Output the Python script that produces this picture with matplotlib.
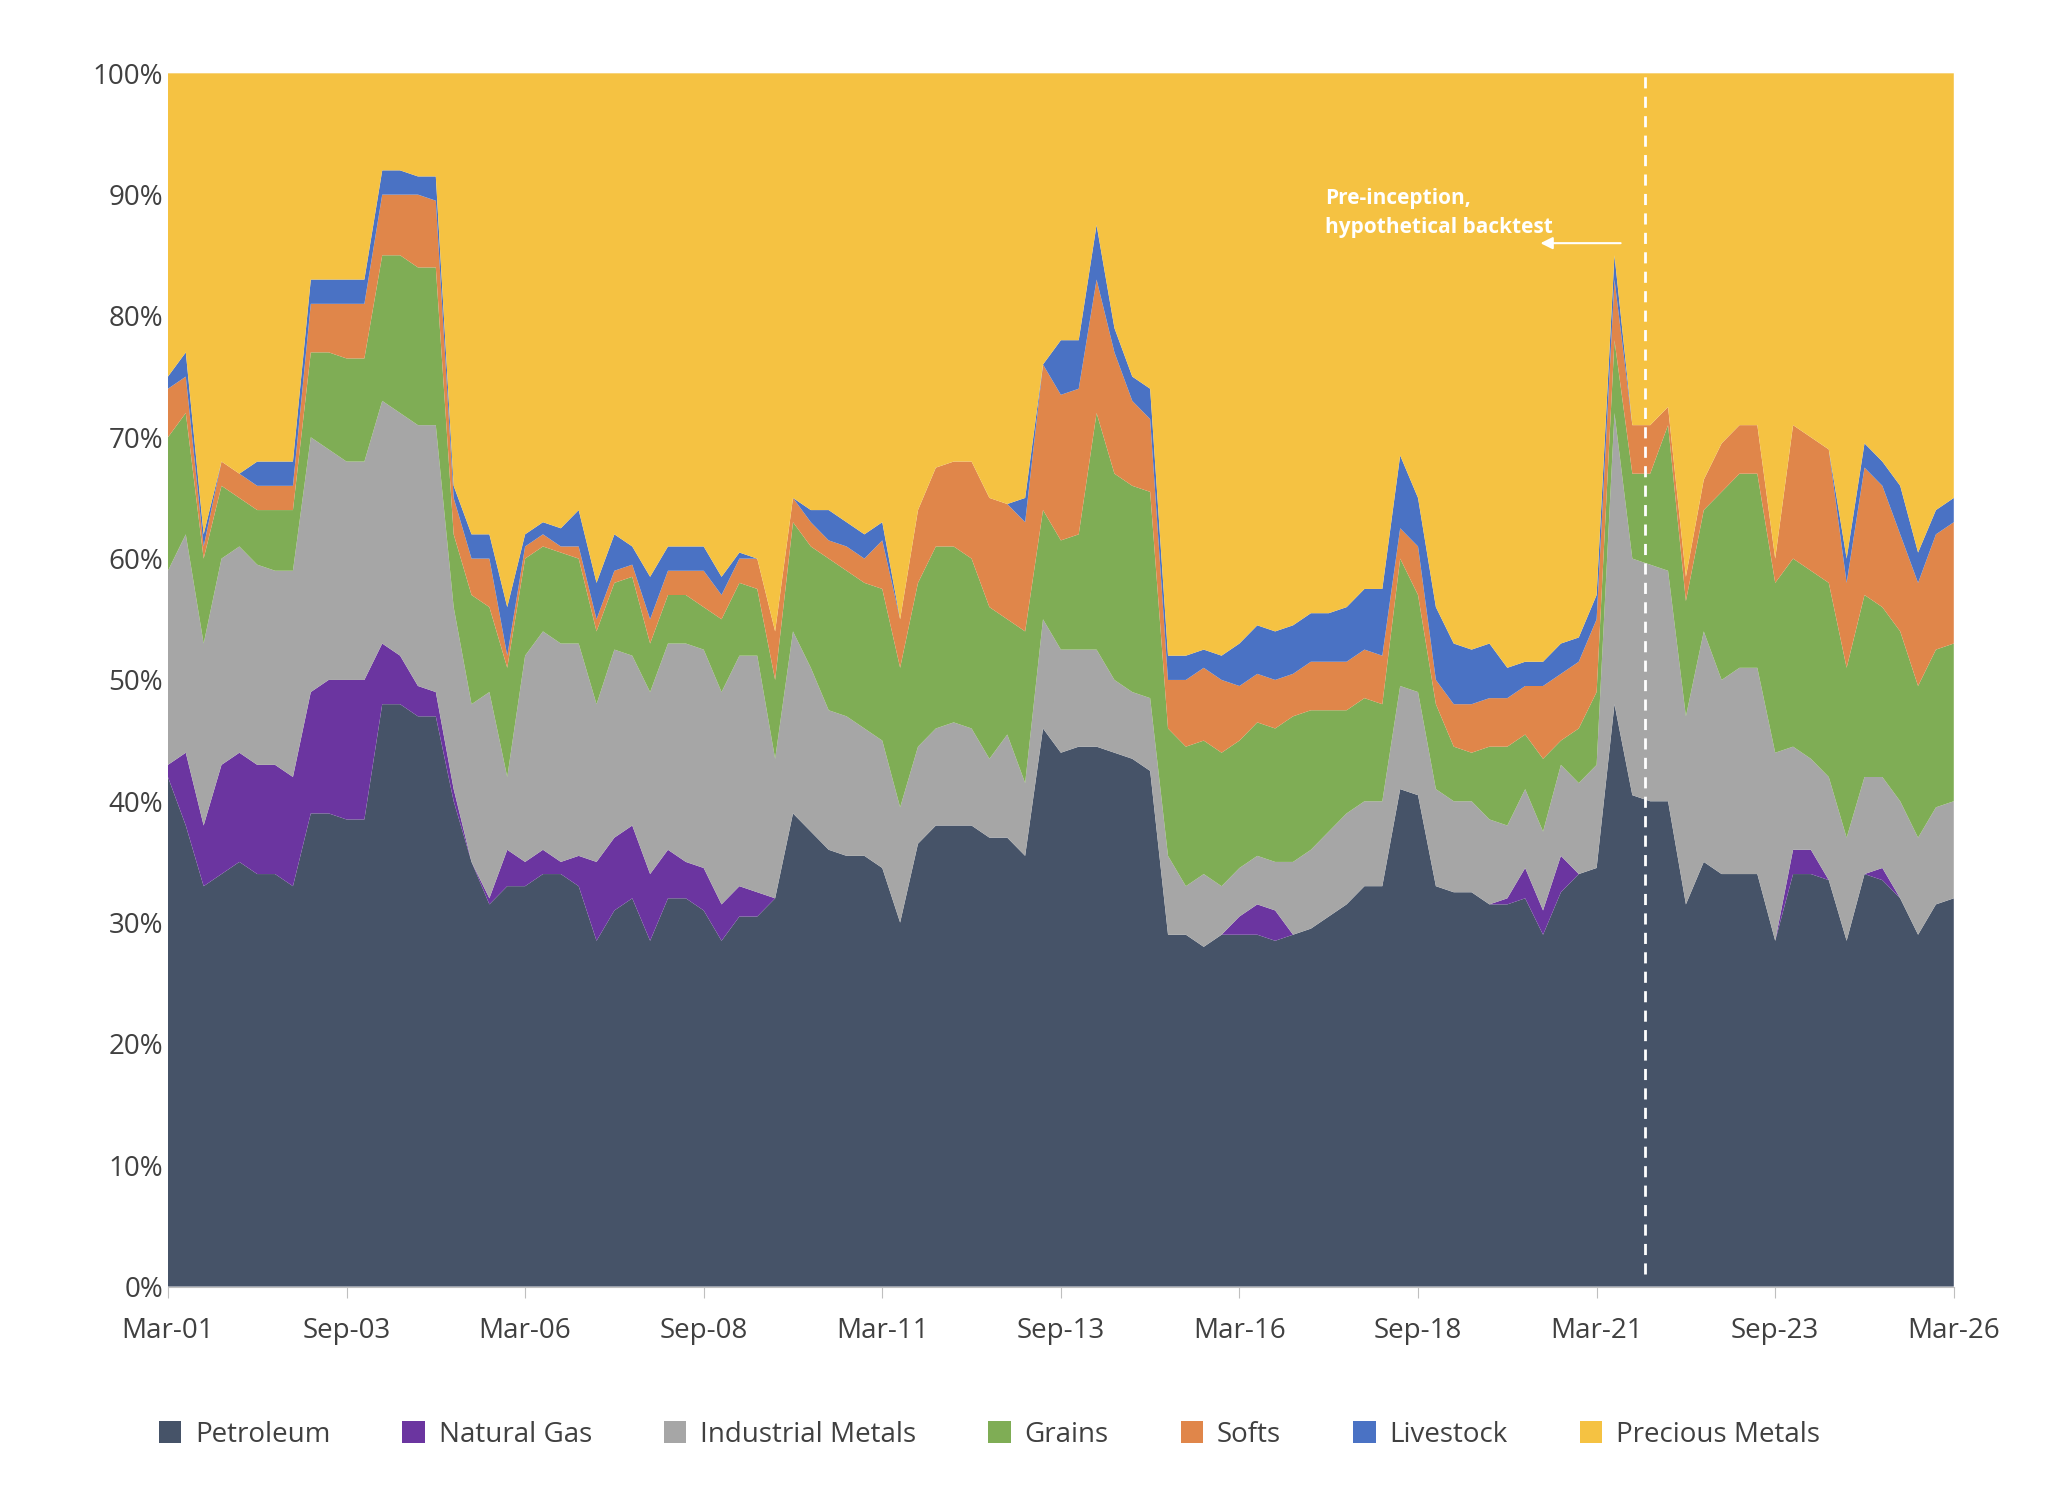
import matplotlib.pyplot as plt
import numpy as np

plt.rcParams['font.family'] = ['Open Sans', 'DejaVu Sans']

tick_labels = ['Mar-01', 'Sep-03', 'Mar-06', 'Sep-08', 'Mar-11', 'Sep-13',
               'Mar-16', 'Sep-18', 'Mar-21', 'Sep-23', 'Mar-26']
names = ['Petroleum', 'Natural Gas', 'Industrial Metals', 'Grains', 'Softs',
         'Livestock', 'Precious Metals']
colors = ['#465368', '#6b35a0', '#a6a6a6', '#7fad55', '#e0864a', '#4a72c4', '#f5c242']

# cumulative tops of each layer, quarterly from Mar-01 (percent)
petroleum = [42, 38, 33, 34, 35, 34, 34, 33, 39, 39, 38.5, 38.5, 48, 48, 47, 47, 40, 35, 31.5, 33,
             33, 34, 34, 33, 28.5, 31, 32, 28.5, 32, 32, 31, 28.5, 30.5, 30.5, 32, 39, 37.5, 36, 35.5, 35.5,
             34.5, 30, 36.5, 38, 38, 38, 37, 37, 35.5, 46, 44, 44.5, 44.5, 44, 43.5, 42.5, 29, 29, 28, 29,
             29, 29, 28.5, 29, 29.5, 30.5, 31.5, 33, 33, 41, 40.5, 33, 32.5, 32.5, 31.5, 31.5, 32, 29, 32.5, 34,
             34.5, 48, 40.5, 40, 40, 31.5, 35, 34, 34, 34, 28.5, 34, 34, 33.5, 28.5, 34, 33.5, 32, 29, 31.5, 32]
natgas_top = [43, 44, 38, 43, 44, 43, 43, 42, 49, 50, 50, 50, 53, 52, 49.5, 49, 41, 35, 32, 36,
              35, 36, 35, 35.5, 35, 37, 38, 34, 36, 35, 34.5, 31.5, 33, 32.5, 32, 39, 37.5, 36, 35.5, 35.5,
              34.5, 30, 36.5, 38, 38, 38, 37, 37, 35.5, 46, 44, 44.5, 44.5, 44, 43.5, 42.5, 29, 29, 28, 29,
              30.5, 31.5, 31, 29, 29.5, 30.5, 31.5, 33, 33, 41, 40.5, 33, 32.5, 32.5, 31.5, 32, 34.5, 31, 35.5, 34,
              34.5, 48, 40.5, 40, 40, 31.5, 35, 34, 34, 34, 28.5, 36, 36, 33.5, 28.5, 34, 34.5, 32, 29, 31.5, 32]
indmetals_top = [59, 62, 53, 60, 61, 59.5, 59, 59, 70, 69, 68, 68, 73, 72, 71, 71, 56, 48, 49, 42,
                 52, 54, 53, 53, 48, 52.5, 52, 49, 53, 53, 52.5, 49, 52, 52, 43.5, 54, 51, 47.5, 47, 46,
                 45, 39.5, 44.5, 46, 46.5, 46, 43.5, 45.5, 41.5, 55, 52.5, 52.5, 52.5, 50, 49, 48.5, 35.5, 33, 34, 33,
                 34.5, 35.5, 35, 35, 36, 37.5, 39, 40, 40, 49.5, 49, 41, 40, 40, 38.5, 38, 41, 37.5, 43, 41.5,
                 43, 72, 60, 59.5, 59, 47, 54, 50, 51, 51, 44, 44.5, 43.5, 42, 37, 42, 42, 40, 37, 39.5, 40]
grains_top = [70, 72, 60, 66, 65, 64, 64, 64, 77, 77, 76.5, 76.5, 85, 85, 84, 84, 62, 57, 56, 51,
              60, 61, 60.5, 60, 54, 58, 58.5, 53, 57, 57, 56, 55, 58, 57.5, 50, 63, 61, 60, 59, 58,
              57.5, 51, 58, 61, 61, 60, 56, 55, 54, 64, 61.5, 62, 72, 67, 66, 65.5, 46, 44.5, 45, 44,
              45, 46.5, 46, 47, 47.5, 47.5, 47.5, 48.5, 48, 60, 57, 48, 44.5, 44, 44.5, 44.5, 45.5, 43.5, 45, 46,
              49, 78, 67, 67, 71, 56.5, 64, 65.5, 67, 67, 58, 60, 59, 58, 51, 57, 56, 54, 49.5, 52.5, 53]
softs_top = [74, 75, 61, 68, 67, 66, 66, 66, 81, 81, 81, 81, 90, 90, 90, 89.5, 65, 60, 60, 52,
             61, 62, 61, 61, 55, 59, 59.5, 55, 59, 59, 59, 57, 60, 60, 54, 65, 63, 61.5, 61, 60,
             61.5, 55, 64, 67.5, 68, 68, 65, 64.5, 63, 76, 73.5, 74, 83, 77, 73, 71.5, 50, 50, 51, 50,
             49.5, 50.5, 50, 50.5, 51.5, 51.5, 51.5, 52.5, 52, 62.5, 61, 50, 48, 48, 48.5, 48.5, 49.5, 49.5, 50.5, 51.5,
             55, 83, 71, 71, 72.5, 58.5, 66.5, 69.5, 71, 71, 60, 71, 70, 69, 58, 67.5, 66, 62, 58, 62, 63]
livestock_top = [75, 77, 62, 68, 67, 68, 68, 68, 83, 83, 83, 83, 92, 92, 91.5, 91.5, 66, 62, 62, 56,
                 62, 63, 62.5, 64, 58, 62, 61, 58.5, 61, 61, 61, 58.5, 60.5, 60, 54, 65, 64, 64, 63, 62,
                 63, 55, 64, 67.5, 68, 68, 65, 64.5, 65, 76, 78, 78, 87.5, 79, 75, 74, 52, 52, 52.5, 52,
                 53, 54.5, 54, 54.5, 55.5, 55.5, 56, 57.5, 57.5, 68.5, 65, 56, 53, 52.5, 53, 51, 51.5, 51.5, 53, 53.5,
                 57, 85, 71, 71, 72.5, 58.5, 66.5, 69.5, 71, 71, 60, 71, 70, 69, 60, 69.5, 68, 66, 60.5, 64, 65]

tops = np.array([petroleum, natgas_top, indmetals_top, grains_top, softs_top, livestock_top])
layers = np.diff(np.vstack([np.zeros(tops.shape[1]), tops, np.full(tops.shape[1], 100)]), axis=0)
x = np.arange(tops.shape[1])

fig = plt.figure(figsize=(20.48, 14.96), dpi=100)
ax = fig.add_axes([0.082, 0.14, 0.872, 0.811])
ax.stackplot(x, layers, colors=colors, labels=names, linewidth=0)

ax.set_xlim(0, 100)
ax.set_ylim(0, 100)
ax.set_yticks(range(0, 101, 10))
ax.set_yticklabels([f'{v}%' for v in range(0, 101, 10)])
ax.set_xticks(range(0, 101, 10))
ax.set_xticklabels(tick_labels)
ax.tick_params(axis='both', labelsize=20, colors='#404040', length=0)
ax.tick_params(axis='x', length=8, color='#bfbfbf', direction='out', pad=14)
for s in ['top', 'right', 'left']:
    ax.spines[s].set_visible(False)
ax.spines['bottom'].set_color('#bfbfbf')

ax.plot([82.7, 82.7], [1, 100], color='white', ls=(0, (4, 3)), lw=2)
ax.annotate('', xy=(76.7, 86), xytext=(81.5, 86),
            arrowprops=dict(arrowstyle='-|>', color='white', lw=1.5, mutation_scale=18))
ax.text(64.8, 88.5, 'Pre-inception,\nhypothetical backtest', color='white',
        fontsize=15, fontweight='bold', va='center', linespacing=1.5)

ax.legend(loc='upper center', bbox_to_anchor=(0.46, -0.09), ncol=7, frameon=False,
          fontsize=20, handlelength=0.8, handleheight=0.8, columnspacing=2.6,
          handletextpad=0.5, labelcolor='#404040')

fig.savefig('out.png', dpi=100, facecolor='white')
